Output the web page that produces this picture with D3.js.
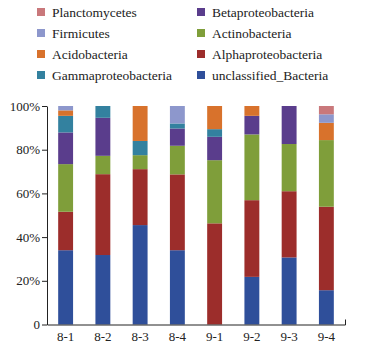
<!DOCTYPE html>
<html lang="en">

<head>
    <meta charset="UTF-8">
    <title>Bacterial composition</title>
    <script src="https://unpkg.com/d3@7.8.0/dist/d3.min.js"></script>
    <style>
        body {
            margin: 0px;
            background: #fff;
        }
    </style>
</head>

<body>
    <script>
        // samples along the x axis
        const samples = ['8-1', '8-2', '8-3', '8-4', '9-1', '9-2', '9-3', '9-4'];

        // relative abundance (%) per group, bottom of the stack first
        const unclassified = [34, 31.8, 45.5, 34, 0, 21.8, 30.7, 15.7];
        const alpha = [17.6, 37, 25.6, 34.7, 46.3, 35.1, 30.3, 38.2];
        const actino = [21.8, 8.4, 6.4, 13.1, 28.9, 30.1, 21.6, 30.5];
        const beta = [14.5, 17.4, 0, 7.9, 10.7, 8.5, 17.4, 0];
        const gamma = [7.6, 5.4, 6.5, 2.3, 3.5, 0, 0, 0];
        const acido = [2.5, 0, 16, 0, 10.6, 4.5, 0, 7.9];
        const firmicutes = [2, 0, 0, 8, 0, 0, 0, 3.9];
        const plancto = [0, 0, 0, 0, 0, 0, 0, 3.8];

        const groupNames = ['unclassified_Bacteria', 'Alphaproteobacteria', 'Actinobacteria',
            'Betaproteobacteria', 'Gammaproteobacteria', 'Acidobacteria', 'Firmicutes', 'Planctomycetes'];
        const groupValues = [unclassified, alpha, actino, beta, gamma, acido, firmicutes, plancto];
        const groupColors = ['#2f4f9a', '#9c2d2b', '#7f9e3a', '#5a3d8c', '#33819f', '#d8722c', '#8d97cc', '#c9787b'];

        // legend layout (two columns, top to bottom)
        const legendCols = [
            ['Planctomycetes', 'Firmicutes', 'Acidobacteria', 'Gammaproteobacteria'],
            ['Betaproteobacteria', 'Actinobacteria', 'Alphaproteobacteria', 'unclassified_Bacteria']
        ];

        const yTicks = [0, 20, 40, 60, 80, 100];

        const fontName = 'Liberation Serif';
        const textFill = '#222';

        const width = 367, height = 349;
        const margin = { top: 106, right: 22, bottom: 24.5, left: 47 };
        const innerwidth = width - margin.left - margin.right;
        const innerheight = height - margin.top - margin.bottom;

        const svg = d3.select('body').append('svg')
            .attr('width', width)
            .attr('height', height);

        const g = svg.append('g')
            .attr('transform', `translate(${margin.left}, ${margin.top})`);

        const xScale = d3.scaleBand()
            .domain(samples)
            .range([0, innerwidth])
            .paddingInner(0.6)
            .paddingOuter(0.3);

        const yScale = d3.scaleLinear()
            .domain([0, 100])
            .range([innerheight, 0]);

        const rows = samples.map((s, i) => {
            const row = { sample: s };
            groupNames.forEach((n, j) => row[n] = groupValues[j][i]);
            return row;
        });

        const stacked = d3.stack().keys(groupNames)(rows);

        g.selectAll('.layer').data(stacked)
            .enter().append('g')
            .attr('class', 'layer')
            .attr('fill', (d, i) => groupColors[i])
            .selectAll('rect').data(d => d)
            .enter().append('rect')
            .attr('x', d => xScale(d.data.sample))
            .attr('width', xScale.bandwidth())
            .attr('y', d => yScale(d[1]))
            .attr('height', d => yScale(d[0]) - yScale(d[1]));

        // Y axis
        const yAxis = d3.axisLeft(yScale)
            .tickValues(yTicks)
            .tickFormat(d => d === 0 ? '0' : d + '%')
            .tickSize(5)
            .tickSizeOuter(0)
            .tickPadding(2);
        const yAxisG = g.append('g').call(yAxis)
            .attr('font-family', fontName)
            .attr('font-size', 13);
        yAxisG.selectAll('.tick text').attr('fill', textFill);
        yAxisG.selectAll('line, path').attr('stroke', textFill);

        // X axis (no category ticks, small end tick on the right)
        const xAxis = d3.axisBottom(xScale)
            .tickSize(0)
            .tickSizeOuter(-5)
            .tickPadding(7);
        const xAxisG = g.append('g')
            .attr('transform', `translate(0, ${innerheight})`)
            .call(xAxis)
            .attr('font-family', fontName)
            .attr('font-size', 13);
        xAxisG.selectAll('.tick text').attr('fill', textFill);
        xAxisG.selectAll('path').attr('stroke', textFill);

        // Legend
        const legendX = [37, 197];
        const legendY = [8, 29, 50, 71];
        const legendG = svg.append('g')
            .attr('font-family', fontName)
            .attr('font-size', 13.5);
        legendCols.forEach((col, c) => {
            col.forEach((name, r) => {
                const item = legendG.append('g')
                    .attr('transform', `translate(${legendX[c]}, ${legendY[r]})`);
                item.append('rect')
                    .attr('width', 8)
                    .attr('height', 8)
                    .attr('fill', groupColors[groupNames.indexOf(name)]);
                item.append('text')
                    .attr('x', 15)
                    .attr('y', 8.5)
                    .attr('fill', textFill)
                    .text(name);
            });
        });
    </script>
</body>

</html>
